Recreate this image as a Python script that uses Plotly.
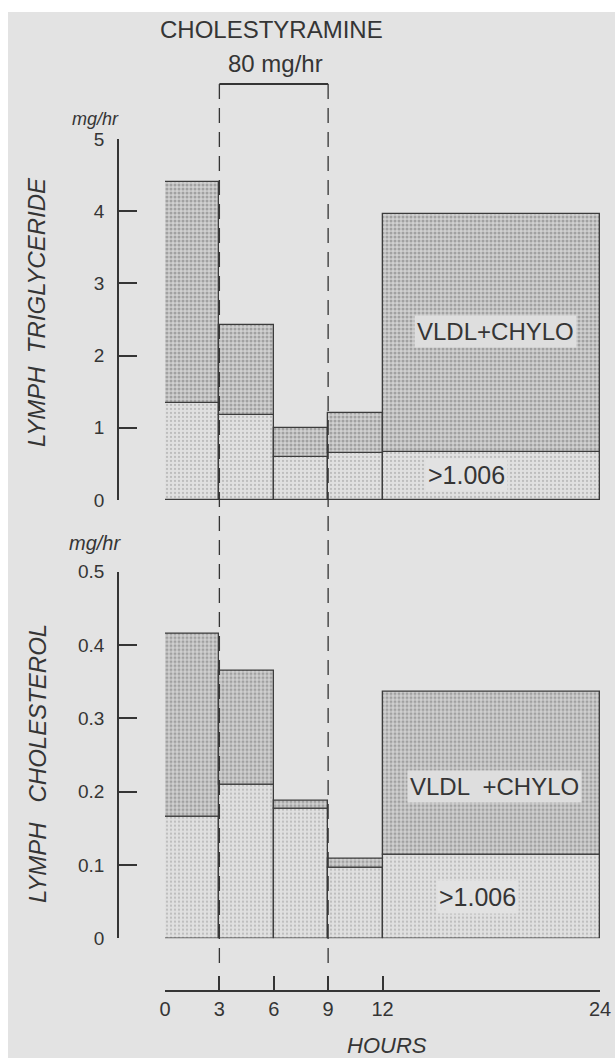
import plotly.graph_objects as go

W, H = 615, 1058
OFF = 0

# ---- data ----
bin_edges = [0, 3, 6, 9, 12, 24]                 # hours
tg_hdl = [1.35, 1.18, 0.60, 0.65, 0.67]          # >1.006 fraction, triglyceride mg/hr
tg_total = [4.40, 2.42, 1.00, 1.21, 3.96]        # total triglyceride mg/hr
ch_hdl = [0.166, 0.210, 0.177, 0.096, 0.114]     # >1.006 fraction, cholesterol mg/hr
ch_total = [0.416, 0.365, 0.187, 0.108, 0.337]   # total cholesterol mg/hr
x_ticks = [0, 3, 6, 9, 12, 24]
tg_ticks = [0, 1, 2, 3, 4, 5]
ch_ticks = [0, 0.1, 0.2, 0.3, 0.4, 0.5]
ch_ticklabels = ["0", "0.1", "0.2", "0.3", "0.4", "0.5"]
drug_start, drug_end = 3, 9

mids = [(a + b) / 2 for a, b in zip(bin_edges[:-1], bin_edges[1:])]
widths = [b - a for a, b in zip(bin_edges[:-1], bin_edges[1:])]
tg_vldl = [t - l for t, l in zip(tg_total, tg_hdl)]
ch_vldl = [t - l for t, l in zip(ch_total, ch_hdl)]

def px(x):
    return (x - OFF) / W

def py(y):
    return 1 - (y - OFF) / H

PAPER = "#e3e3e3"
INK = "#353535"
FONT = "Liberation Sans, Arial, sans-serif"

light_pat = dict(shape=".", fgcolor="#9a9a9a", bgcolor="#e0e0e0", size=4, solidity=0.25)
dark_pat = dict(shape=".", fgcolor="#727272", bgcolor="#d0d0d0", size=4, solidity=0.45)
edge = dict(color="#3c3c3c", width=1.3)

fig = go.Figure()
for yax, low, up in [("y", tg_hdl, tg_vldl), ("y2", ch_hdl, ch_vldl)]:
    fig.add_trace(go.Bar(x=mids, y=low, width=widths, base=[0] * len(low),
                         marker=dict(color="#e0e0e0", pattern=light_pat, line=edge),
                         xaxis="x", yaxis=yax, showlegend=False, hoverinfo="skip"))
    fig.add_trace(go.Bar(x=mids, y=up, width=widths, base=low,
                         marker=dict(color="#d0d0d0", pattern=dark_pat, line=edge),
                         xaxis="x", yaxis=yax, showlegend=False, hoverinfo="skip"))

tickfont = dict(family=FONT, size=19, color=INK)

fig.update_layout(
    width=W, height=H,
    margin=dict(l=0, r=0, t=0, b=0, pad=0, autoexpand=False),
    paper_bgcolor=PAPER,
    plot_bgcolor="rgba(0,0,0,0)",
    barmode="overlay",
    bargap=0,
    xaxis=dict(domain=[px(165), px(600)], range=[0, 24], anchor="free",
               position=py(991), showline=True, linecolor=INK, linewidth=1.5,
               ticks="inside", ticklen=14, tickwidth=1.5, tickcolor=INK,
               tickvals=x_ticks, ticktext=[str(v) for v in x_ticks],
               tickfont=dict(family=FONT, size=20, color=INK),
               ticklabeloverflow="allow", automargin=False,
               showgrid=False, zeroline=False),
    yaxis=dict(domain=[py(500), py(139)], range=[0, 5], anchor="free",
               position=px(118), showline=True, linecolor=INK, linewidth=1.5,
               ticks="inside", ticklen=18, tickwidth=1.5, tickcolor=INK,
               tickvals=tg_ticks, tickfont=tickfont, ticklabelstandoff=9,
               automargin=False, showgrid=False, zeroline=False),
    yaxis2=dict(domain=[py(938.3), py(571.7)], range=[0, 0.5], anchor="free",
                position=px(118), showline=True, linecolor=INK, linewidth=1.5,
                ticks="inside", ticklen=18, tickwidth=1.5, tickcolor=INK,
                tickvals=ch_ticks, ticktext=ch_ticklabels, tickfont=tickfont,
                ticklabelstandoff=9, automargin=False,
                showgrid=False, zeroline=False),
)

shapes = [
    # white unscanned strips along the top and left edges
    dict(type="rect", xref="paper", yref="paper", x0=0, x1=1, y0=py(12), y1=1,
         fillcolor="white", line=dict(width=0), layer="below"),
    dict(type="rect", xref="paper", yref="paper", x0=0, x1=px(8), y0=0, y1=1,
         fillcolor="white", line=dict(width=0), layer="below"),
]
for xv in (drug_start, drug_end):
    shapes.append(dict(type="line", xref="x", yref="paper", x0=xv, x1=xv,
                       y0=py(963), y1=py(84), layer="above",
                       line=dict(color=INK, width=1.3, dash="15px,9px")))
shapes.append(dict(type="line", xref="x", yref="paper", x0=drug_start, x1=drug_end,
                   y0=py(84), y1=py(84), line=dict(color=INK, width=2.2)))
fig.update_layout(shapes=shapes)

def ann(text, x, y, size, italic=False, angle=0, bg=None):
    d = dict(text=text, xref="paper", yref="paper", x=px(x), y=py(y),
             xanchor="center", yanchor="middle", showarrow=False, textangle=angle,
             font=dict(family=FONT, size=size, color=INK,
                       style="italic" if italic else "normal"))
    if bg:
        d.update(bgcolor=bg, borderpad=2)
    return d

annotations = [
    ann("CHOLESTYRAMINE", 271, 29, 24),
    ann("80 mg/hr", 275, 63, 24),
    ann("mg/hr", 95, 119, 18, italic=True),
    ann("mg/hr", 95, 543, 20, italic=True),
    ann("LYMPH  TRIGLYCERIDE", 37, 312, 24, italic=True, angle=-90),
    ann("LYMPH   CHOLESTEROL", 37, 764, 24, italic=True, angle=-90),
    ann("HOURS", 387, 1045, 22, italic=True),
    ann("VLDL+CHYLO", 495, 331, 24, bg="#dedede"),
    ann("&gt;1.006", 466, 475, 25, bg="#e2e2e2"),
    ann("VLDL  +CHYLO", 494, 786, 24, bg="#dedede"),
    ann("&gt;1.006", 477, 897, 25, bg="#e2e2e2"),
]
fig.update_layout(annotations=annotations)

fig.write_html(
    "out.html",
    config={"displayModeBar": False},
    post_script="document.body.style.margin='0';document.body.style.overflow='hidden';",
)
